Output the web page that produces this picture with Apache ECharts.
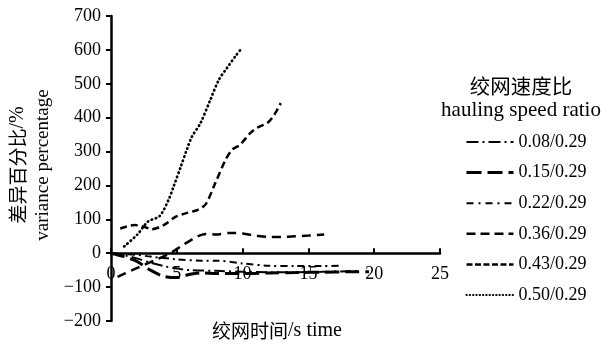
<!DOCTYPE html>
<html><head><meta charset="utf-8">
<script src="https://cdn.jsdelivr.net/npm/echarts@6/dist/echarts.min.js"></script>
<style>html,body{margin:0;padding:0;background:#fff}#c{width:602px;height:346px}</style>
</head><body><div id="c"></div>
<script>
const xTicks = [0, 5, 10, 15, 20, 25];
const yTicks = [-200, -100, 0, 100, 200, 300, 400, 500, 600, 700];
const seriesNames = ['0.08/0.29', '0.15/0.29', '0.22/0.29', '0.36/0.29', '0.43/0.29', '0.50/0.29'];

const t008 = [0, 1, 2, 3, 4, 5, 6, 8, 10, 12, 14, 16, 18, 19];
const v008 = [0, -6, -16, -28, -38, -45, -50, -52, -55, -56, -56, -55, -53, -52];
const t015 = [0, 1, 2, 3, 4, 5, 6, 7, 8, 10, 12, 14, 16, 18, 19.6];
const v015 = [0, -10, -25, -50, -68, -72, -62, -58, -60, -60, -58, -57, -56, -55, -55];
const t022 = [0, 2, 3, 5, 7, 8, 10, 12, 14, 16, 17.6];
const v022 = [0, -5, -10, -18, -22, -22, -30, -37, -38, -38, -37];
const t036 = [0.5, 1.5, 2.5, 3.5, 4.5, 5.5, 6.5, 7.2, 8, 9, 10, 11, 12, 13, 14, 15, 16.2];
const v036 = [-70, -52, -35, -18, 0, 25, 48, 57, 55, 60, 58, 52, 48, 48, 50, 52, 55];
const t043 = [0.7, 1.8, 2.5, 3.1, 4, 4.9, 5.6, 6.6, 7.2, 7.9, 8.7, 9.2, 9.8, 10.6, 11.1, 11.9, 12.4, 12.9];
const v043 = [73, 83, 78, 71, 83, 107, 117, 128, 145, 205, 275, 305, 320, 355, 370, 385, 408, 443];
const t050 = [1, 2, 2.8, 3.7, 4.4, 4.75, 5.3, 5.8, 6.15, 6.8, 7.55, 8.2, 8.8, 9.45, 9.95];
const v050 = [20, 55, 93, 110, 160, 196, 255, 310, 344, 384, 453, 512, 546, 581, 606];

const times = [t008, t015, t022, t036, t043, t050];
const values = [v008, v015, v022, v036, v043, v050];
const dashes = [[11, 4, 2, 4], [14, 6], [7, 4, 2, 4], [9, 6], [7, 4], [0.5, 3.8]];
const widths = [2, 3, 2, 2.5, 2.5, 2.7];
const caps = ['butt', 'butt', 'butt', 'butt', 'butt', 'round'];
const legendDashes = [[12, 4, 2, 4], [15, 6], [7, 5, 2, 5], [9, 5], [6, 2.5], [0.3, 3]];
const legendWidths = [2, 3, 2, 2.5, 2.5, 2.1];

const serif = '"Liberation Serif", "Times New Roman", serif';
const cjk = '"Noto Sans CJK SC", sans-serif';

const gridTop = 16, gridH = 305;
const yMin = yTicks[0], yMax = yTicks[yTicks.length - 1];
const zeroOffset = gridH * (0 - yMin) / (yMax - yMin);

const chart = echarts.init(document.getElementById('c'), null, {renderer: 'canvas'});
const series = seriesNames.map((n, i) => ({
  name: n, type: 'line', smooth: 0.3, symbol: 'none', showSymbol: false,
  data: times[i].map((t, k) => [t, values[i][k]]),
  lineStyle: {color: '#000', width: widths[i], type: dashes[i], cap: caps[i]},
  itemStyle: {color: '#000'},
  z: 3
}));

const richName = {
  c: {fontFamily: cjk, fontSize: 19, color: '#000'},
  s: {fontFamily: serif, fontSize: 20, color: '#000'}
};

chart.setOption({
  animation: false,
  backgroundColor: '#fff',
  grid: {left: 111, top: gridTop, width: 329, height: gridH, containLabel: false},
  xAxis: {
    type: 'value', min: xTicks[0], max: xTicks[xTicks.length - 1], interval: 5,
    offset: -zeroOffset,
    axisLine: {onZero: false, lineStyle: {color: '#000', width: 2.5}},
    axisTick: {inside: true, length: 5, lineStyle: {color: '#000', width: 2}},
    axisLabel: {color: '#000', fontFamily: serif, fontSize: 18, margin: 12},
    splitLine: {show: false}
  },
  yAxis: {
    type: 'value', min: yMin, max: yMax, interval: 100,
    axisLine: {lineStyle: {color: '#000', width: 2.5}},
    axisTick: {inside: false, length: 5, lineStyle: {color: '#000', width: 2}},
    axisLabel: {color: '#000', fontFamily: serif, fontSize: 18, margin: 10,
      formatter: v => v < 0 ? '\u2212' + Math.abs(v) : String(v)},
    splitLine: {show: false}
  },
  legend: {
    orient: 'vertical', left: 465, top: 133, padding: 0,
    itemWidth: 47, itemHeight: 14, itemGap: 12.6,
    data: seriesNames.map((n, i) => ({
      name: n,
      lineStyle: {color: '#000', width: legendWidths[i], type: legendDashes[i], cap: caps[i]}
    })),
    itemStyle: {color: 'rgba(0,0,0,0)', borderColor: 'rgba(0,0,0,0)', borderWidth: 0, opacity: 0},
    textStyle: {color: '#000', fontFamily: serif, fontSize: 18, lineHeight: 18}
  },
  graphic: [
    {type: 'text', x: 18, y: 165, rotation: Math.PI / 2,
      style: {text: '{c|差异百分比}{s|/%}', rich: richName, fill: '#000', align: 'center', verticalAlign: 'middle'}},
    {type: 'text', x: 43, y: 165, rotation: Math.PI / 2,
      style: {text: 'variance percentage', font: '19px ' + serif, fill: '#000', align: 'center', verticalAlign: 'middle'}},
    {type: 'text', x: 277, y: 331,
      style: {text: '{c|绞网时间}{s|/s time}', rich: richName, fill: '#000', align: 'center', verticalAlign: 'middle'}},
    {type: 'text', x: 521, y: 86,
      style: {text: '绞网速度比', font: '20.5px ' + cjk, fill: '#000', align: 'center', verticalAlign: 'middle'}},
    {type: 'text', x: 521, y: 110,
      style: {text: 'hauling speed ratio', font: '21px ' + serif, fill: '#000', align: 'center', verticalAlign: 'middle'}}
  ],
  series: series
});
</script></body></html>
